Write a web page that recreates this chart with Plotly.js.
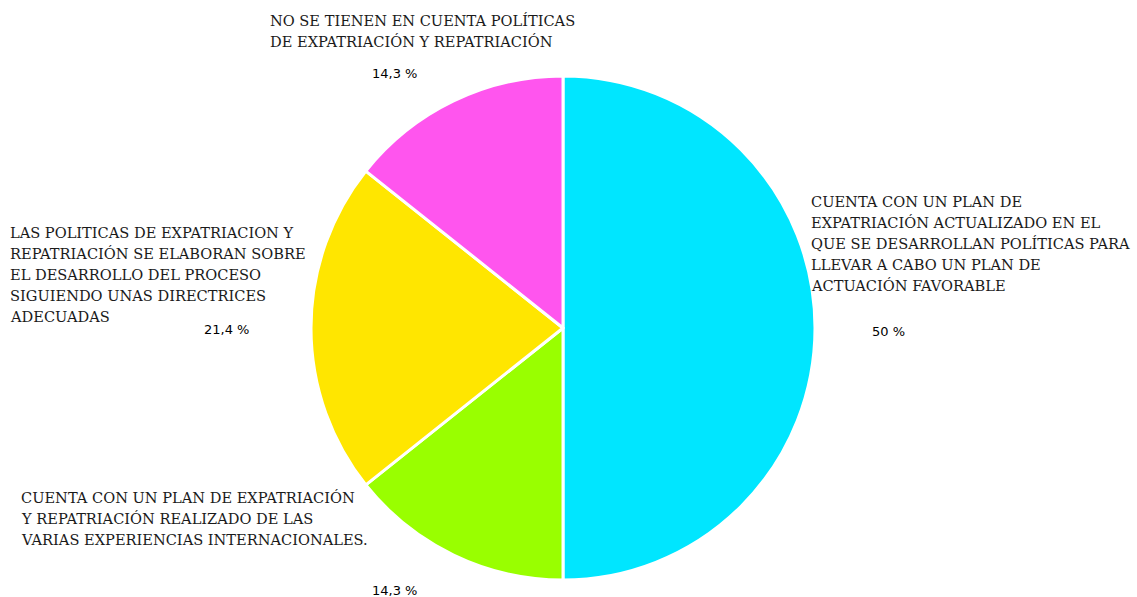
<!DOCTYPE html>
<html>
<head>
<meta charset="utf-8">
<script src="https://cdn.plot.ly/plotly-3.0.1.min.js"></script>
<style>html,body{margin:0;padding:0;background:#fff;}#chart{width:1137px;height:597px;}</style>
</head>
<body>
<div id="chart"></div>
<script>
// Data
const categories = [
  "CUENTA CON UN PLAN DE<br>EXPATRIACIÓN ACTUALIZADO EN EL<br>QUE SE DESARROLLAN POLÍTICAS PARA<br>LLEVAR A CABO UN PLAN DE<br>ACTUACIÓN FAVORABLE",
  "CUENTA CON UN PLAN DE EXPATRIACIÓN<br>Y REPATRIACIÓN REALIZADO DE LAS<br>VARIAS EXPERIENCIAS INTERNACIONALES.",
  "LAS POLITICAS DE EXPATRIACION Y<br>REPATRIACIÓN SE ELABORAN SOBRE<br>EL DESARROLLO DEL PROCESO<br>SIGUIENDO UNAS DIRECTRICES<br>ADECUADAS",
  "NO SE TIENEN EN CUENTA POLÍTICAS<br>DE EXPATRIACIÓN Y REPATRIACIÓN"
];
const values = [50, 14.3, 21.4, 14.3];
const colors = ["#00E6FF", "#99FF00", "#FFE600", "#FF55EE"];

// Layout helpers (pixel positions of label blocks)
const W = 1137, H = 597;
const cx = 563, cy = 328, R = 252;
const labelPos = [
  {x: 809, y: 201, px: 870, py: 331},
  {x: 19,  y: 497, px: 370, py: 590},
  {x: 8,   y: 232, px: 202, py: 330},
  {x: 268, y: 20,  px: 370, py: 73}
];
const lineGap = 21;

function fmt(v){
  let s = (Math.round(v*10)/10).toString();
  return s.replace('.', ',') + ' %';
}

const annotations = [];
categories.forEach((lab, i) => {
  const lines = lab.split('<br>');
  const p = labelPos[i];
  lines.forEach((ln, j) => {
    annotations.push({
      text: ln, xref: 'paper', yref: 'paper',
      x: p.x / W, y: 1 - (p.y + j*lineGap) / H,
      xanchor: 'left', yanchor: 'middle', showarrow: false,
      font: {family: 'DejaVu Serif', size: 14.6, color: '#1a1a1a'}
    });
  });
  annotations.push({
    text: fmt(values[i]), xref: 'paper', yref: 'paper',
    x: p.px / W, y: 1 - p.py / H,
    xanchor: 'left', yanchor: 'middle', showarrow: false,
    font: {family: 'DejaVu Sans', size: 13, color: '#000'}
  });
});

const trace = {
  type: 'pie',
  labels: categories,
  values: values,
  sort: false,
  direction: 'clockwise',
  rotation: 0,
  textinfo: 'none',
  hoverinfo: 'label+percent',
  marker: {colors: colors, line: {color: '#ffffff', width: 3}},
  domain: {x: [(cx - R) / W, (cx + R) / W], y: [(H - cy - R) / H, (H - cy + R) / H]},
  showlegend: false
};

const layout = {
  width: W, height: H,
  margin: {l: 0, r: 0, t: 0, b: 0},
  paper_bgcolor: '#ffffff',
  plot_bgcolor: '#ffffff',
  showlegend: false,
  annotations: annotations
};

Plotly.newPlot('chart', [trace], layout, {displayModeBar: false, staticPlot: true});
</script>
</body>
</html>
